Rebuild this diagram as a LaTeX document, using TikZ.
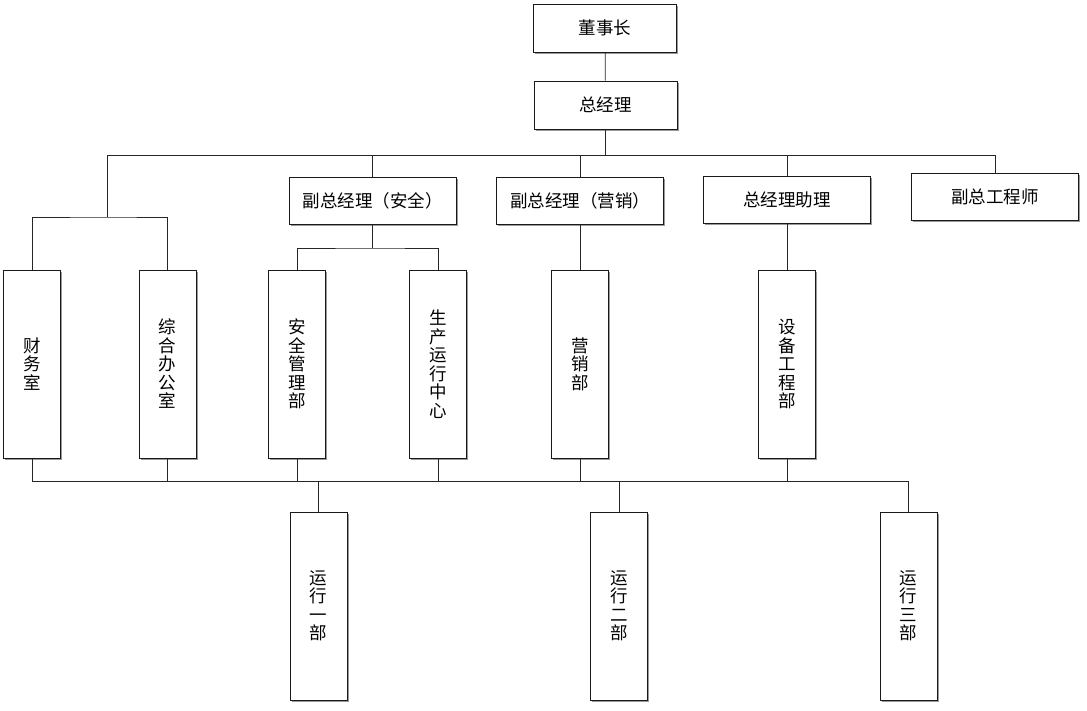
\documentclass[tikz,border=0pt]{standalone}
\usepackage{fontspec}
\setmainfont{Noto Sans CJK SC}
\usetikzlibrary{positioning}
\usetikzlibrary{shadows}
\tikzset{orgbox/.style={draw=black!90, line width=0.8pt, fill=white, inner sep=0pt, align=center,
drop shadow={shadow xshift=1.6pt, shadow yshift=-1.6pt, opacity=0.4, fill=black},
font=\fontsize{17.5}{18.5}\selectfont}}

\begin{document}
\begin{tikzpicture}[x=1pt, y=-1pt, line width=0.8pt, draw=black!85,
  hbox/.style={orgbox, minimum width=143pt, minimum height=48pt},
  vpbox/.style={orgbox, minimum width=167pt, minimum height=47pt},
  vbox/.style={orgbox, minimum width=57pt, minimum height=188pt}]
\useasboundingbox (0,0) rectangle (1087,710);
% top
\node[hbox] (chair) at (605,28) {董事长};
\node[hbox] (gm) at (605.5,105) {总经理};
% second row
\node[vpbox] (vpsafe) at (372.5,200.5) {副总经理（安全）};
\node[vpbox] (vpsales) at (580,200.5) {副总经理（营销）};
\node[vpbox] (asst) at (787,200) {总经理助理};
\node[vpbox] (chiefeng) at (995,197) {副总工程师};
% departments
\node[vbox] (fin) at (32,364) {财\\务\\室};
\node[vbox] (office) at (167.5,364) {综\\合\\办\\公\\室};
\node[vbox] (safety) at (297,364) {安\\全\\管\\理\\部};
\node[vbox] (prod) at (438,364) {生\\产\\运\\行\\中\\心};
\node[vbox] (sales) at (580,364) {营\\销\\部};
\node[vbox] (equip) at (787,364) {设\\备\\工\\程\\部};
% operation units
\node[vbox] (run1) at (318.5,606) {运\\行\\一\\部};
\node[vbox] (run2) at (619,606) {运\\行\\二\\部};
\node[vbox] (run3) at (908.5,606) {运\\行\\三\\部};

\coordinate (busL) at (107,155);
\coordinate (splitL) at (107,217);
\coordinate (splitS) at (372.5,248);
\coordinate (busB) at (0,481);

\draw (chair) -- (gm);
\draw (gm.south) -- (gm.south |- busL);
\draw (busL) -- (chiefeng.north |- busL);
\foreach \n in {vpsafe,vpsales,asst,chiefeng}
  \draw (\n.north) -- (\n.north |- busL);
\draw (busL) -- (splitL);
\draw (fin.north) |- (splitL) -| (office.north);
\draw (vpsafe.south) -- (splitS);
\draw (safety.north) |- (splitS) -| (prod.north);
\draw (vpsales) -- (sales);
\draw (asst) -- (equip);
% bottom bus
\draw (fin.south) |- (run3.north |- busB) -- (run3.north);
\foreach \n in {office,safety,prod,sales,equip}
  \draw (\n.south) -- (\n.south |- busB);
\foreach \n in {run1,run2}
  \draw (\n.north) -- (\n.north |- busB);
\end{tikzpicture}
\end{document}
